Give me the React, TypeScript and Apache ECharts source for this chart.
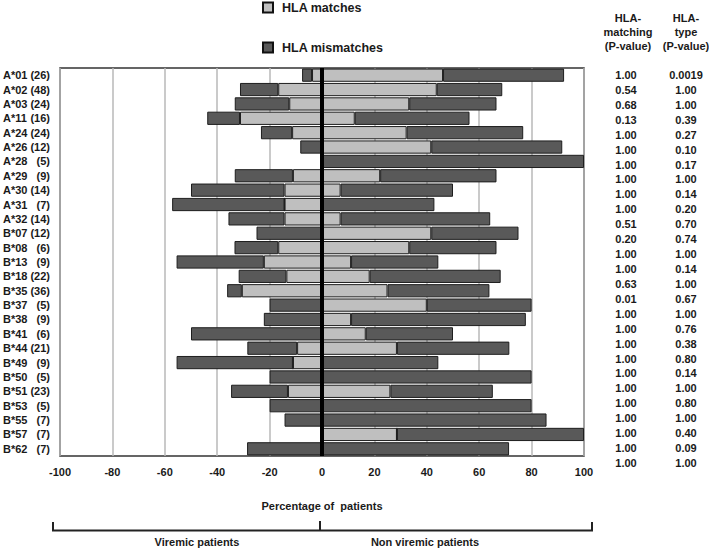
import React, { useEffect, useRef } from "react";
import * as echarts from "echarts";

const alleles = ["A*01","A*02","A*03","A*11","A*24","A*26","A*28","A*29","A*30","A*31","A*32","B*07","B*08","B*13","B*18","B*35","B*37","B*38","B*41","B*44","B*49","B*50","B*51","B*53","B*55","B*57","B*62"];
const counts = [26,48,24,16,24,12,5,9,14,7,14,12,6,9,22,36,5,9,6,21,9,5,23,5,7,7,7];

// Viremic patients (drawn to the left, % of patients)
const viremicMatches =    [3.8,16.7,12.5,31.3,11.4,0,0,11.1,14.3,14.3,14.3,0,16.7,22.2,13.6,30.6,0,0,0,9.5,11.1,0,13.0,0,0,0,0];
const viremicMismatches = [3.8,14.6,20.8,12.5,11.9,8.3,0,22.2,35.7,42.9,21.4,25.0,16.7,33.3,18.2,5.6,20,22.2,50,19.0,44.4,20,21.7,20,14.3,0,28.6];
// Non viremic patients (drawn to the right)
const nonViremicMatches =    [46.2,43.8,33.3,12.5,32.3,41.7,0,22.2,7.1,0,7.1,41.7,33.3,11.1,18.2,25.0,40,11.1,16.7,28.6,0,0,26.1,0,0,28.6,0];
const nonViremicMismatches = [46.2,25.0,33.3,43.8,44.5,50.0,100,44.4,42.9,42.9,57.1,33.3,33.3,33.3,50.0,38.9,40,66.7,33.3,42.9,44.4,80,39.1,80,85.7,71.4,71.4];

const pMatching = ["1.00","0.54","0.68","0.13","1.00","1.00","1.00","1.00","1.00","1.00","0.51","0.20","1.00","1.00","0.63","0.01","1.00","1.00","1.00","1.00","1.00","1.00","1.00","1.00","1.00","1.00","1.00"];
const pType = ["0.0019","1.00","1.00","0.39","0.27","0.10","0.17","1.00","0.14","0.20","0.70","0.74","1.00","0.14","1.00","0.67","1.00","0.76","0.38","0.80","0.14","1.00","0.80","1.00","0.40","0.09","1.00"];

const xTicks = { min: -100, max: 100, interval: 20 };

const FONT = "'Liberation Sans', Arial, sans-serif";
const TXT = "#1a1a1a";
const LIGHT = "#bfbfbf";
const DARK = "#595959";
const EDGE = "#1e1e1e";

export default function App() {
  const ref = useRef<HTMLDivElement>(null);
  useEffect(() => {
    if (!ref.current) return;
    const chart = echarts.init(ref.current, null, { renderer: "svg" });
    const GL = 57, GR = 584, GT = 68, GB = 456;
    const barStyle = (c: string) => ({ color: c, borderColor: EDGE, borderWidth: 1 });
    const common = { type: "bar", stack: "all", barCategoryGap: "8%", xAxisIndex: 0, yAxisIndex: 0 };
    const pLabel = { margin: 0, align: "center", interval: 0, formatter: (v: string) => v.split(":")[1], fontFamily: FONT, fontWeight: "bold", fontSize: 11, color: TXT };
    const option: any = {
      animation: false,
      backgroundColor: "#fff",
      textStyle: { fontFamily: FONT },
      legend: {
        orient: "vertical",
        left: 262,
        top: 1,
        padding: 0,
        itemWidth: 10,
        itemHeight: 10,
        itemGap: 27,
        icon: "rect",
        itemStyle: { borderWidth: 2, borderColor: "#111" },
        data: ["HLA matches", "HLA mismatches"],
        textStyle: { fontFamily: FONT, fontWeight: "bold", fontSize: 12.5, color: TXT, padding: [0, 0, 0, 4] },
        selectedMode: false,
      },
      grid: [
        { left: GL, top: GT, width: GR - GL, height: GB - GT, show: true, borderColor: "#333", borderWidth: 1.5, containLabel: false },
        { left: 626, top: 67.5, width: 60, height: 403, show: false },
      ],
      xAxis: [
        {
          type: "value", gridIndex: 0, min: xTicks.min, max: xTicks.max, interval: xTicks.interval,
          axisLine: { show: false }, axisTick: { show: false },
          splitLine: { show: true, lineStyle: { color: "#b8b8b8", width: 1.5 } },
          axisLabel: { fontFamily: FONT, fontWeight: "bold", fontSize: 11, color: TXT, margin: 10 },
          name: "Percentage of  patients", nameLocation: "middle", nameGap: 44,
          nameTextStyle: { fontFamily: FONT, fontWeight: "bold", fontSize: 11, color: TXT },
        },
        { type: "value", gridIndex: 1, show: false },
      ],
      yAxis: [
        {
          type: "category", gridIndex: 0, data: alleles, inverse: true,
          axisLine: { show: false }, axisTick: { show: false }, splitLine: { show: false },
          axisLabel: {
            margin: 10,
            interval: 0,
            formatter: (v: string, i: number) => `{a|${v}}{b|(${counts[i]})}`,
            rich: {
              a: { width: 27, align: "left", fontFamily: FONT, fontWeight: "bold", fontSize: 11, color: TXT },
              b: { width: 20, align: "right", fontFamily: FONT, fontWeight: "bold", fontSize: 11, color: TXT },
            },
          },
        },
        {
          type: "category", gridIndex: 1, data: pMatching.map((p, i) => ({ value: i + ":" + p })), inverse: true, position: "left",
          axisLine: { show: false }, axisTick: { show: false }, splitLine: { show: false },
          axisLabel: pLabel,
        },
        {
          type: "category", gridIndex: 1, data: pType.map((p, i) => ({ value: i + ":" + p })), inverse: true, position: "right",
          axisLine: { show: false }, axisTick: { show: false }, splitLine: { show: false },
          axisLabel: pLabel,
        },
      ],
      series: [
        {
          ...common, name: "HLA matches", data: viremicMatches.map((v) => -v), itemStyle: barStyle(LIGHT),
          markLine: {
            silent: true, symbol: ["none", "none"], label: { show: false },
            lineStyle: { color: "#000", width: 4, type: "solid" },
            data: [{ xAxis: 0 }],
          },
          z: 2,
        },
        { ...common, name: "HLA matches", data: nonViremicMatches, itemStyle: barStyle(LIGHT) },
        { ...common, name: "HLA mismatches", data: viremicMismatches.map((v) => -v), itemStyle: barStyle(DARK) },
        { ...common, name: "HLA mismatches", data: nonViremicMismatches, itemStyle: barStyle(DARK) },
      ],
      graphic: [
        {
          type: "text", x: 628, y: 11, style: {
            text: "HLA-\nmatching\n(P-value)", align: "center", verticalAlign: "top", lineHeight: 14,
            font: `bold 11px ${FONT}`, fill: TXT,
          },
        },
        {
          type: "text", x: 686, y: 11, style: {
            text: "HLA-\ntype\n(P-value)", align: "center", verticalAlign: "top", lineHeight: 14,
            font: `bold 11px ${FONT}`, fill: TXT,
          },
        },
        { type: "polyline", shape: { points: [[53, 522], [53, 530.5], [592, 530.5], [592, 522]] }, style: { stroke: "#222", lineWidth: 2, fill: null } },
        { type: "line", shape: { x1: 320, y1: 521, x2: 320, y2: 530.5 }, style: { stroke: "#222", lineWidth: 2 } },
        { type: "text", x: 197, y: 542, style: { text: "Viremic patients", align: "center", verticalAlign: "middle", font: `bold 11px ${FONT}`, fill: TXT } },
        { type: "text", x: 425, y: 542, style: { text: "Non viremic patients", align: "center", verticalAlign: "middle", font: `bold 11px ${FONT}`, fill: TXT } },
      ],
    };
    chart.setOption(option);
    return () => chart.dispose();
  }, []);
  return <div ref={ref} style={{ position: "fixed", left: 0, top: 0, width: 709, height: 548 }} />;
}
